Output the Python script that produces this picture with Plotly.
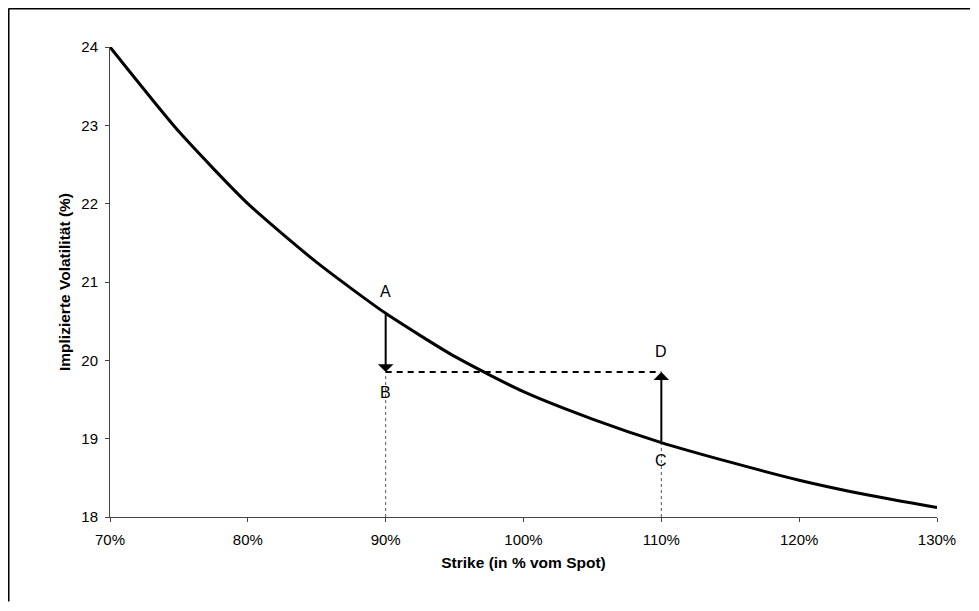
import plotly.graph_objects as go

# volatility smile (skew)
strike = [70, 75, 80, 85, 90, 95, 100, 105, 110, 115, 120, 125, 130]
vola = [24.0, 22.92, 22.0, 21.25, 20.6, 20.05, 19.6, 19.25, 18.95, 18.7, 18.47, 18.28, 18.12]

x_ticks = [70, 80, 90, 100, 110, 120, 130]
x_ticktext = ["70%", "80%", "90%", "100%", "110%", "120%", "130%"]

# points of the A/B/C/D sketch
strike_ab = 90
strike_cd = 110
vol_a = 20.6
vol_bd = 19.85
vol_c = 18.95
labels = ["A", "B", "C", "D"]

font_fam = "Arial, Liberation Sans, sans-serif"

fig = go.Figure()

# thin dotted verticals down to the axis
fig.add_trace(go.Scatter(x=[strike_ab, strike_ab], y=[18, vol_bd], mode="lines",
                         line=dict(color="#555", width=1, dash="dot"), showlegend=False, hoverinfo="skip"))
fig.add_trace(go.Scatter(x=[strike_cd, strike_cd], y=[18, vol_c], mode="lines",
                         line=dict(color="#555", width=1, dash="dot"), showlegend=False, hoverinfo="skip"))
# dashed horizontal B -> D
fig.add_trace(go.Scatter(x=[strike_ab, strike_cd], y=[vol_bd, vol_bd], mode="lines",
                         line=dict(color="black", width=2, dash="6px,5px"), showlegend=False, hoverinfo="skip"))

fig.add_trace(go.Scatter(x=strike, y=vola, mode="lines", line=dict(color="black", width=3, shape="spline", smoothing=0.6),
                         showlegend=False, cliponaxis=False))

# arrows A->B and C->D
fig.add_annotation(x=strike_ab, y=vol_bd, ax=strike_ab, ay=vol_a, xref="x", yref="y", axref="x", ayref="y",
                   text="", showarrow=True, arrowhead=1, arrowsize=1.3, arrowwidth=2, arrowcolor="black")
fig.add_annotation(x=strike_cd, y=vol_bd, ax=strike_cd, ay=vol_c, xref="x", yref="y", axref="x", ayref="y",
                   text="", showarrow=True, arrowhead=1, arrowsize=1.3, arrowwidth=2, arrowcolor="black")

label_pos = [(strike_ab, 20.88), (strike_ab, 19.59), (strike_cd, 18.72), (strike_cd, 20.11)]
for txt, (lx, ly) in zip(labels, label_pos):
    fig.add_annotation(x=lx, y=ly, text=txt, showarrow=False, font=dict(family=font_fam, size=16, color="black"))

# outer frame of the chart: only top and left edges are visible in the original
frame_x0 = -0.1227
frame_y1 = 1.0819
fig.add_shape(type="line", xref="paper", yref="paper", x0=frame_x0, x1=1.04, y0=frame_y1, y1=frame_y1,
              line=dict(color="black", width=2))
fig.add_shape(type="line", xref="paper", yref="paper", x0=frame_x0, x1=frame_x0, y0=-0.18, y1=frame_y1,
              line=dict(color="black", width=2))

fig.update_layout(
    width=963, height=595,
    margin=dict(l=102, r=34, t=39, b=86),
    paper_bgcolor="white", plot_bgcolor="white",
    font=dict(family=font_fam, size=15, color="black"),
    xaxis=dict(range=[70, 130], tickvals=x_ticks, ticktext=x_ticktext,
               showgrid=False, zeroline=False, showline=True, linecolor="#444", linewidth=1,
               ticks="outside", ticklen=4, tickcolor="#444", ticklabelstandoff=5,
               title=dict(text="<b>Strike (in % vom Spot)</b>", font=dict(size=15.5), standoff=10)),
    yaxis=dict(range=[18, 24], dtick=1, showgrid=False, zeroline=False, showline=True,
               linecolor="#444", linewidth=1, ticks="outside", ticklen=4, tickcolor="#444", ticklabelstandoff=4,
               title=dict(text="<b>Implizierte Volatilität (%)</b>", font=dict(size=15.5), standoff=6)),
)

fig.write_html("out.html")
